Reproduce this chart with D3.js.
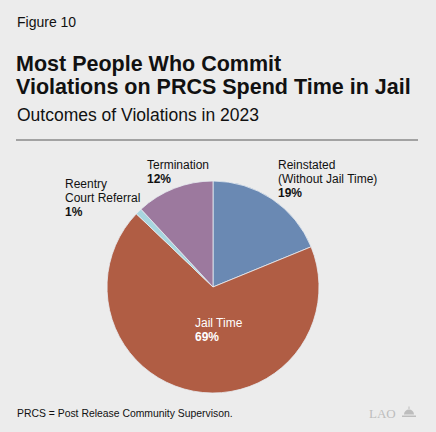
<!DOCTYPE html>
<html><head><meta charset="utf-8">
<script src="https://cdn.jsdelivr.net/npm/d3@7"></script>
<style>
html,body{margin:0;padding:0;background:#ececec;}
svg text{font-family:"Liberation Sans",Arial,Helvetica,sans-serif;}
</style></head>
<body>
<script>
const categories = ["Reinstated (Without Jail Time)", "Jail Time", "Reentry Court Referral", "Termination"];
const values = [19, 69, 1, 12];
const labelLines = [["Reinstated", "(Without Jail Time)"], ["Jail Time"], ["Reentry", "Court Referral"], ["Termination"]];
const pctLabels = ["19%", "69%", "1%", "12%"];
const colors = ["#6a89b3", "#b05d44", "#a8d6df", "#9c799e"];

const W = 436, H = 432;
const svg = d3.select("body").append("svg").attr("width", W).attr("height", H);
svg.append("rect").attr("width", W).attr("height", H).attr("fill", "#ececec");

svg.append("text").attr("x", 17).attr("y", 27).attr("font-size", 14).attr("fill", "#111").text("Figure 10");
const title = ["Most People Who Commit", "Violations on PRCS Spend Time in Jail"];
title.forEach((t, i) => svg.append("text").attr("x", 16).attr("y", 71 + i * 22.5)
  .attr("font-size", 21.5).attr("font-weight", "bold").attr("fill", "#111").text(t));
svg.append("text").attr("x", 17).attr("y", 121).attr("font-size", 17.5).attr("fill", "#111").text("Outcomes of Violations in 2023");
svg.append("line").attr("x1", 16).attr("x2", 418).attr("y1", 140).attr("y2", 140)
  .attr("stroke", "#8a8a8a").attr("stroke-width", 1.5);

const cx = 213, cy = 287, R = 106;
const pie = d3.pie().sort(null).value(d => d);
const arcs = pie(values);
const arc = d3.arc().innerRadius(0).outerRadius(R);
const g = svg.append("g").attr("transform", `translate(${cx},${cy})`);
g.selectAll("path").data(arcs).join("path")
  .attr("d", arc).attr("fill", (d, i) => colors[i])
  .attr("stroke", "#e8eef2").attr("stroke-width", 0.8);

// labels
const labelPos = [
  {x: 278, y: 169, color: "#111"},
  {x: 195, y: 327, color: "#fff"},
  {x: 65, y: 188, color: "#111"},
  {x: 147, y: 169, color: "#111"}
];
labelPos.forEach((p, i) => {
  const t = svg.append("text").attr("font-size", 12).attr("fill", p.color);
  labelLines[i].forEach((l, j) => t.append("tspan").attr("x", p.x).attr("y", p.y + j * 14).text(l));
  t.append("tspan").attr("x", p.x).attr("y", p.y + labelLines[i].length * 14)
    .attr("font-weight", "bold").text(pctLabels[i]);
});

svg.append("text").attr("x", 17).attr("y", 417).attr("font-size", 10.4).attr("fill", "#111")
  .text("PRCS = Post Release Community Supervison.");

// LAO logo
svg.append("text").attr("x", 369).attr("y", 418).attr("font-size", 13)
  .style("font-family", "'Liberation Serif',serif")
  .attr("fill", "#bdbdbd").text("LAO");
const logo = svg.append("g").attr("fill", "#bdbdbd");
logo.append("path").attr("d", "M402,417 L416,417 L416,415.5 L402,415.5 Z M404,414.5 L414,414.5 A5,5 0 0 0 404,414.5 Z M408.5,409 L409.5,409 L409.5,406.5 L408.5,406.5 Z");
</script>
</body></html>
